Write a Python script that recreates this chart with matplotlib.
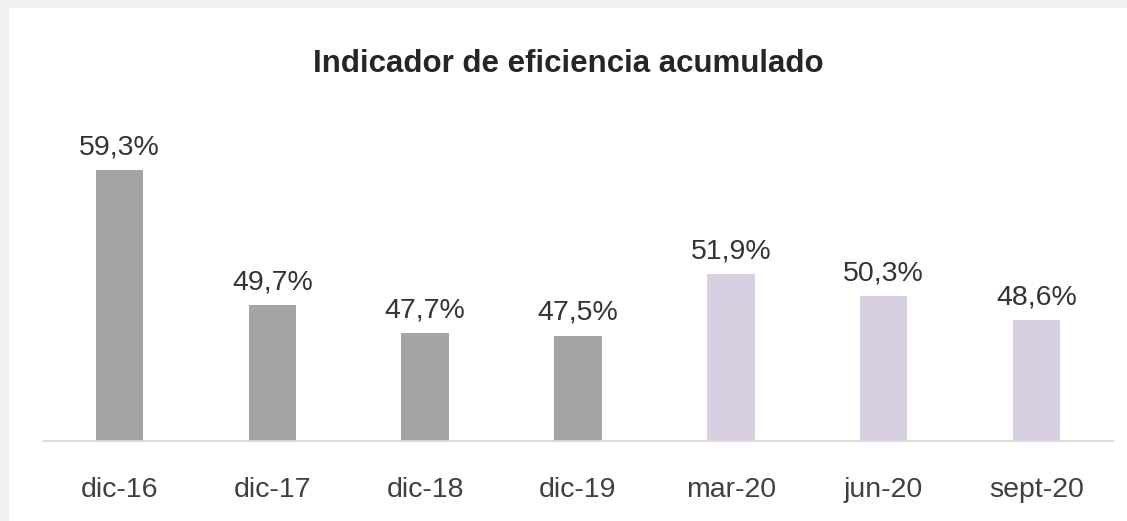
import matplotlib.pyplot as plt
from matplotlib.patches import Rectangle

plt.rcParams['font.family'] = ['Liberation Sans', 'DejaVu Sans']

categories = ['dic-16', 'dic-17', 'dic-18', 'dic-19', 'mar-20', 'jun-20', 'sept-20']
values = [59.3, 49.7, 47.7, 47.5, 51.9, 50.3, 48.6]
colors = ['#a5a5a5'] * 4 + ['#d9cfe3'] * 3

fig = plt.figure(figsize=(11.27, 5.21), dpi=100)
fig.patch.set_facecolor('#f0f0f0')
fig.patches.append(Rectangle((9 / 1127, 0), 1, 1 - 8 / 521, transform=fig.transFigure,
                             facecolor='white', edgecolor='none', zorder=-5))

ax = fig.add_axes([43 / 1127, 1 - 441 / 521, 1070 / 1127, 309 / 521])
ax.set_zorder(2)
ax.set_facecolor('none')
x = range(len(categories))
bars = ax.bar(x, [v - 40 for v in values], bottom=40, width=0.31, color=colors)
ax.set_xlim(-0.5, len(categories) - 0.5)
ax.set_ylim(40, 62)

# etiquetas de valor sobre cada barra
for xi, v in zip(x, values):
    ax.annotate(f"{v:.1f}%".replace('.', ','), (xi, v), xytext=(0, 7),
                textcoords='offset points', ha='center', va='bottom',
                fontsize=20.5, color='#333333')

ax.set_xticks(list(x))
ax.set_xticklabels(categories, fontsize=20.5, color='#404040')
ax.tick_params(axis='x', length=0, pad=26)
ax.set_yticks([])
for s in ['top', 'right', 'left']:
    ax.spines[s].set_visible(False)
ax.spines['bottom'].set_color('#d9d9d9')
ax.spines['bottom'].set_linewidth(1.3)

fig.text(568 / 1127, 1 - 64 / 521, 'Indicador de eficiencia acumulado', ha='center', va='center',
         fontsize=22.5, fontweight='bold', color='#262626')

fig.savefig('out.png', dpi=100, facecolor=fig.get_facecolor())
